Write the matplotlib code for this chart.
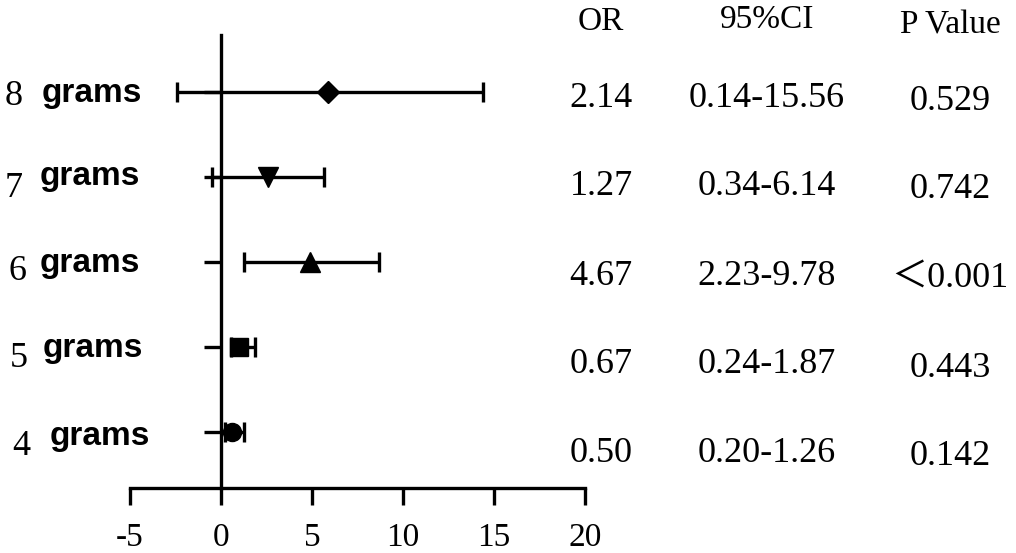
import numpy as np
import matplotlib.pyplot as plt

plt.rcParams['axes.unicode_minus'] = False

# data
grams = ['8', '7', '6', '5', '4']
point = [5.9, 2.6, 4.9, 1.0, 0.6]
lo = [-2.4, -0.5, 1.26, 0.55, 0.2]
hi = [14.4, 5.65, 8.7, 1.85, 1.26]
markers = ['D', 'v', '^', 's', 'o']
msizes = [11, 14, 14, 13, 13]
or_txt = ['2.14', '1.27', '4.67', '0.67', '0.50']
ci_txt = ['0.14-15.56', '0.34-6.14', '2.23-9.78', '0.24-1.87', '0.20-1.26']
p_txt = ['0.529', '0.742', '\uff1c0.001', '0.443', '0.142']
heads = ['OR', '95%CI', 'P Value']

SERIF = 'Liberation Serif'
W, H = 1016, 553
fig = plt.figure(figsize=(W / 100, H / 100), dpi=100)
ax = fig.add_axes([130 / W, 65 / H, 455 / W, 453 / H])

ypos = np.arange(len(grams), 0, -1)  # 8 grams on top
for i in range(len(grams)):
    ax.errorbar(point[i], ypos[i], xerr=[[point[i] - lo[i]], [hi[i] - point[i]]],
                fmt=markers[i], color='black', ms=msizes[i], elinewidth=2.4,
                capsize=7, capthick=2.4)

ax.set_xlim(-5, 20)
ax.set_ylim(0.34, 5.67)
ax.set_xticks([-5, 0, 5, 10, 15, 20])
ax.set_yticks(ypos)
ax.set_yticklabels([])
ax.spines['left'].set_position(('data', 0))
ax.spines['top'].set_visible(False)
ax.spines['right'].set_visible(False)
for s in ['left', 'bottom']:
    ax.spines[s].set_linewidth(2.4)
ax.tick_params(axis='x', length=12, width=2.4, direction='out', pad=13, labelsize=24)
ax.tick_params(axis='y', length=12, width=2.4, direction='out')
for lab in ax.get_xticklabels():
    lab.set_fontfamily(SERIF)

# pixel positions of the hand-placed labels (from top of image)
num_x = [5, 5, 8, 10, 12]
num_base = [105, 197, 280, 367, 455]
gram_x = [42, 40, 40, 43, 50]
gram_base = [102, 185, 272, 357, 445]
for i in range(len(grams)):
    fig.text(num_x[i] / W, 1 - num_base[i] / H, grams[i], family=SERIF, fontsize=26,
             va='baseline', ha='left')
    fig.text(gram_x[i] / W, 1 - gram_base[i] / H, 'grams', family='Liberation Sans',
             fontweight='bold', fontsize=24, va='baseline', ha='left')

# table on the right
cols_x = [601, 767, 950]
head_base = [30, 28, 33]
for x, t, hb in zip(cols_x, heads, head_base):
    fig.text(x / W, 1 - hb / H, t, family=SERIF, fontsize=24, ha='center', va='baseline')
row_base = [107, 195, 285, 373, 462]
p_base = [110, 198, 287, 377, 465]
for i in range(len(grams)):
    yb = 1 - row_base[i] / H
    fig.text(cols_x[0] / W, yb, or_txt[i], family=SERIF, fontsize=26, ha='center', va='baseline')
    fig.text(cols_x[1] / W, yb, ci_txt[i], family=SERIF, fontsize=26, ha='center', va='baseline')
    fig.text(cols_x[2] / W, 1 - p_base[i] / H, p_txt[i], family=[SERIF, 'Noto Sans CJK SC'],
             fontsize=26, ha='center', va='baseline')

fig.savefig('out.png', dpi=100)
